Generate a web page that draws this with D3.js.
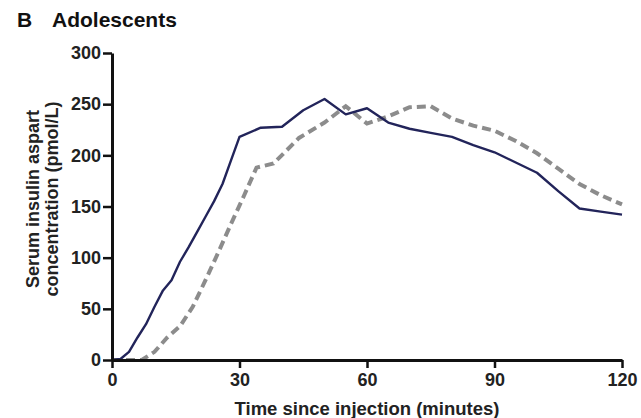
<!DOCTYPE html>
<html>
<head>
<meta charset="utf-8">
<script src="https://cdn.jsdelivr.net/npm/d3@7"></script>
<style>
  body { margin: 0; background: #fff; }
  svg { display: block; font-family: "Liberation Sans", Arial, sans-serif; }
</style>
</head>
<body>
<div id="chart"></div>
<script>
const W = 641, H = 418;
const margin = { top: 53, right: 19, bottom: 58, left: 112 };
const width = W - margin.left - margin.right,
  height = H - margin.top - margin.bottom;

// solid navy series (time in minutes, pmol/L)
const solidTimes = [0, 2, 4, 6, 8, 10, 12, 14, 16, 18, 20, 22, 24, 26, 28, 30, 35, 40, 45, 50, 55, 60, 65, 70, 75, 80, 85, 90, 95, 100, 105, 110, 115, 120];
const solidValues = [0, 1, 8, 22, 35, 52, 68, 78, 96, 110, 125, 140, 155, 172, 195, 218, 227, 228, 244, 255, 240, 246, 232, 226, 222, 218, 210, 203, 193, 183, 165, 148, 145, 142];

// dashed grey series
const dashTimes = [0, 4, 7, 10, 13, 16, 19, 22, 25, 28, 31, 34, 38, 44, 50, 55, 60, 65, 70, 75, 80, 85, 90, 95, 100, 105, 110, 115, 120];
const dashValues = [0, 0, 0, 8, 22, 33, 52, 78, 105, 133, 160, 188, 192, 217, 232, 248, 231, 238, 247, 248, 236, 229, 224, 214, 202, 187, 172, 161, 152];

const xTicks = [0, 30, 60, 90, 120];
const yTicks = [0, 50, 100, 150, 200, 250, 300];

const x = d3.scaleLinear().domain([0, 120]).range([0, width]);
const y = d3.scaleLinear().domain([0, 300]).range([height, 0]);

const svg = d3.select("#chart").append("svg")
  .attr("width", W)
  .attr("height", H);

// panel title
svg.append("text")
  .attr("x", 17).attr("y", 27)
  .attr("font-size", 21).attr("font-weight", "bold")
  .attr("fill", "#111")
  .text("B");
svg.append("text")
  .attr("x", 52).attr("y", 27)
  .attr("font-size", 21).attr("font-weight", "bold")
  .attr("fill", "#111")
  .text("Adolescents");

const g = svg.append("g")
  .attr("transform", "translate(" + margin.left + "," + margin.top + ")");

const solid = solidTimes.map((t, i) => ({ t: t, v: solidValues[i] }));
const dashed = dashTimes.map((t, i) => ({ t: t, v: dashValues[i] }));

const line = d3.line()
  .x((d) => x(d.t))
  .y((d) => y(d.v));

g.append("path")
  .datum(dashed)
  .attr("fill", "none")
  .attr("stroke", "#8c8c8c")
  .attr("stroke-width", 4)
  .attr("stroke-dasharray", "9,5")
  .attr("d", line);

g.append("path")
  .datum(solid)
  .attr("fill", "none")
  .attr("stroke", "#22245a")
  .attr("stroke-width", 2.4)
  .attr("stroke-linejoin", "round")
  .attr("d", line);

// axes
const xAxis = g.append("g")
  .attr("transform", "translate(0," + height + ")")
  .call(d3.axisBottom(x).tickValues(xTicks).tickSize(8).tickSizeOuter(0).tickPadding(5));

const yAxis = g.append("g")
  .call(d3.axisLeft(y).tickValues(yTicks).tickSize(9).tickSizeOuter(0).tickPadding(2));

[xAxis, yAxis].forEach((a) => {
  a.select(".domain").attr("stroke", "#111").attr("stroke-width", 3);
  a.selectAll(".tick line").attr("stroke", "#111").attr("stroke-width", 2.5);
  a.selectAll(".tick text")
    .attr("font-size", 18)
    .attr("font-weight", "bold")
    .attr("font-family", "'Liberation Sans', Arial, sans-serif")
    .attr("fill", "#222");
});

// x axis title
svg.append("text")
  .attr("x", 367).attr("y", 415)
  .attr("text-anchor", "middle")
  .attr("font-size", 18.5).attr("font-weight", "bold")
  .attr("fill", "#222")
  .text("Time since injection (minutes)");

// y axis title, two lines
const yTitle = svg.append("text")
  .attr("transform", "translate(39,199) rotate(-90)")
  .attr("text-anchor", "middle")
  .attr("font-size", 18).attr("font-weight", "bold")
  .attr("fill", "#222");
yTitle.append("tspan").attr("x", 0).attr("y", 0).text("Serum insulin aspart");
yTitle.append("tspan").attr("x", 0).attr("y", 19).text("concentration (pmol/L)");
</script>
</body>
</html>
